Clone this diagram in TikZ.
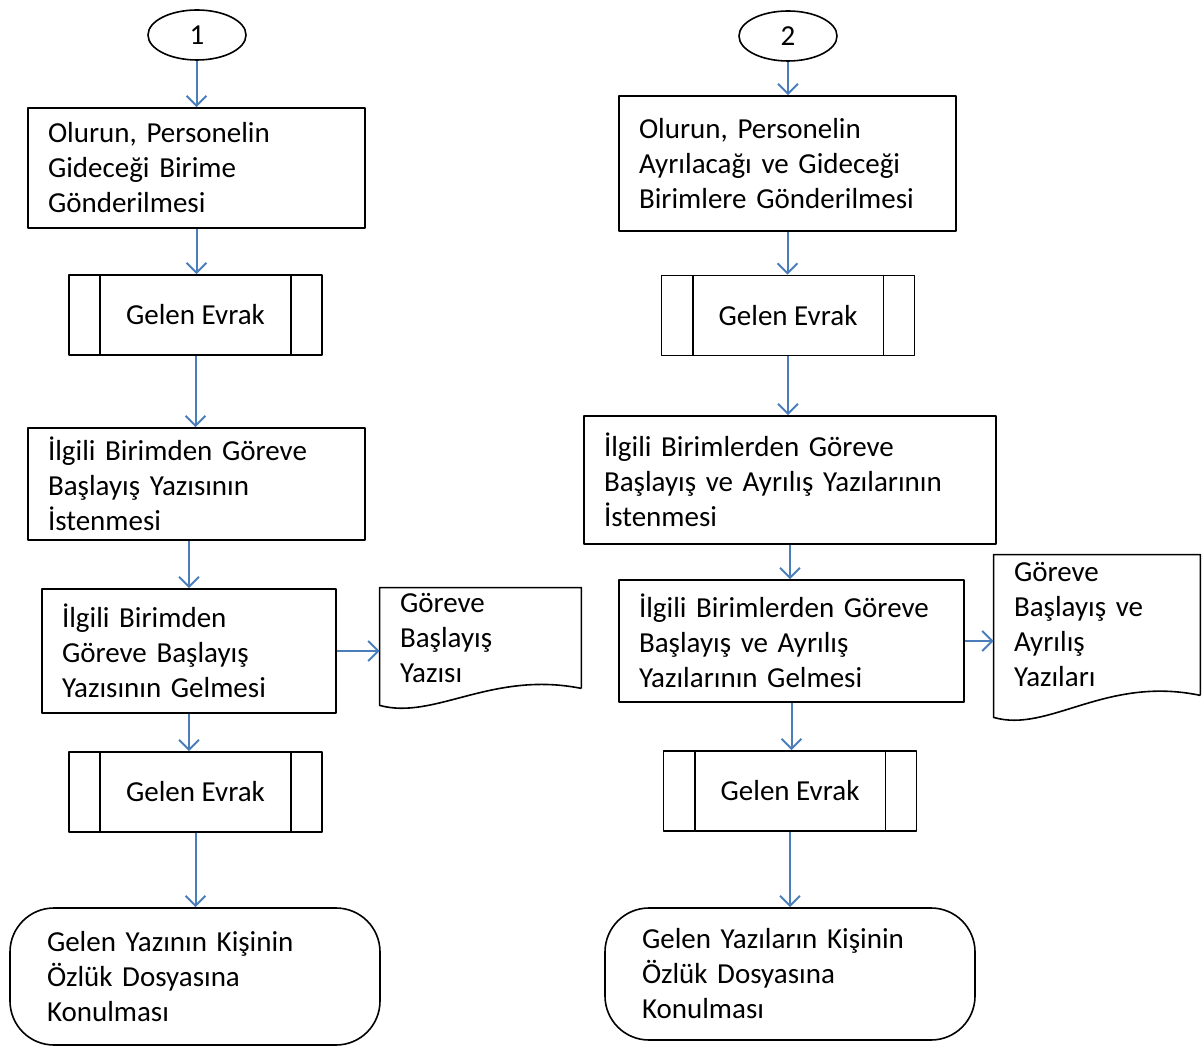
\documentclass[tikz,border=0pt]{standalone}
\usepackage{fontspec}
\setmainfont{Carlito}
\usetikzlibrary{shapes.geometric,arrows.meta,calc}
\definecolor{okmavi}{RGB}{74,126,187}
\begin{document}
\begin{tikzpicture}[x=0.5pt,y=-0.5pt,line join=round,
  font=\fontsize{14.5}{17.5}\selectfont,
  kutu/.style={draw,line width=0.8pt,rectangle,align=left,inner xsep=10pt,inner ysep=0pt},
  hazir/.style={draw,line width=0.8pt,rectangle,minimum width=126.5pt,minimum height=40pt},
  belge/.style={rectangle,align=left,inner xsep=10pt,inner ysep=0pt},
  bitis/.style={draw,line width=0.8pt,rectangle,rounded corners=22pt,align=left,inner xsep=18.5pt,inner ysep=0pt},
  basla/.style={draw,line width=0.8pt,ellipse,minimum width=49pt,minimum height=25pt,inner sep=0pt},
  ok/.style={draw=okmavi,line width=1pt,-{Straight Barb[length=5pt,width=10pt]}}]
\useasboundingbox (0,0) rectangle (1203,1047);
%% Sol sütun
\node[basla] (s1) at (197,35) {1};
\node[kutu,text width=148.5pt,minimum height=60pt] (b1) at (196.5,168) {Olurun, Personelin\\Gideceği Birime\\Gönderilmesi};
\node[hazir] (g1) at (195.5,315) {Gelen Evrak};
\node[kutu,text width=148.5pt,minimum height=56pt] (b2) at (196.5,484) {İlgili Birimden Göreve\\Başlayış Yazısının\\İstenmesi};
\node[kutu,text width=127pt,minimum height=62pt] (b3) at (189,651) {İlgili Birimden\\Göreve Başlayış\\Yazısının Gelmesi};
\node[belge,text width=80.5pt,minimum height=50pt] (d1) at (480.5,638) {Göreve\\Başlayış\\Yazısı};
\node[hazir] (g2) at (195.5,792) {Gelen Evrak};
\node[bitis,text width=148pt,minimum height=68.5pt] (t1) at (195,976.5) {Gelen Yazının Kişinin\\Özlük Dosyasına\\Konulması};
%% Sağ sütun
\node[basla] (s2) at (788,36) {2};
\node[kutu,text width=148.5pt,minimum height=67.5pt] (r1) at (787.5,163.5) {Olurun, Personelin\\Ayrılacağı ve Gideceği\\Birimlere Gönderilmesi};
\node[hazir] (h1) at (788,315.5) {Gelen Evrak};
\node[kutu,text width=186pt,minimum height=64pt] (r2) at (790,480) {İlgili Birimlerden Göreve\\Başlayış ve Ayrılış Yazılarının\\İstenmesi};
\node[kutu,text width=152.5pt,minimum height=61pt] (r3) at (791.5,641) {İlgili Birimlerden Göreve\\Başlayış ve Ayrılış\\Yazılarının Gelmesi};
\node[belge,text width=83pt,minimum height=70pt] (d2) at (1097,625) {Göreve\\Başlayış ve\\Ayrılış\\Yazıları};
\node[hazir] (h2) at (790,791) {Gelen Evrak};
\node[bitis,text width=148pt,minimum height=66pt] (t2) at (790,974) {Gelen Yazıların Kişinin\\Özlük Dosyasına\\Konulması};
%% hazır işlem çizgileri
\foreach \g in {g1,g2,h1,h2}{
  \draw[line width=0.8pt] ([xshift=16pt]\g.north west) -- ([xshift=16pt]\g.south west);
  \draw[line width=0.8pt] ([xshift=-16pt]\g.north east) -- ([xshift=-16pt]\g.south east);
}
%% belge şekilleri
\draw[line width=0.8pt] (d1.south east) -- (d1.north east) -- (d1.north west) -- ($(d1.south west)+(0,17)$)
  .. controls ($(d1.south west)+(55,32)$) and ($(d1.south east)+(-90,-18)$) .. (d1.south east);
\draw[line width=0.8pt] (d2.south east) -- (d2.north east) -- (d2.north west) -- ($(d2.south west)+(0,22)$)
  .. controls ($(d2.south west)+(55,38)$) and ($(d2.south east)+(-95,-20)$) .. (d2.south east);
%% oklar
\draw[ok] (s1.south -| b1.south) -- (b1.north);
\draw[ok] (b1.south) -- (g1.north -| b1.south);
\draw[ok] (g1.south) -- (b2.north -| g1.south);
\draw[ok] (b3.north |- b2.south) -- (b3.north);
\draw[ok] (b3.east) -- (b3.east -| d1.west);
\draw[ok] (b3.south) -- (g2.north -| b3.south);
\draw[ok] (g2.south) -- (t1.north -| g2.south);
\draw[ok] (s2.south) -- (r1.north -| s2.south);
\draw[ok] (r1.south) -- (h1.north -| r1.south);
\draw[ok] (h1.south) -- (r2.north -| h1.south);
\draw[ok] (r2.south) -- (r3.north -| r2.south);
\draw[ok] (r3.east) -- (r3.east -| d2.west);
\draw[ok] (r3.south) -- (h2.north -| r3.south);
\draw[ok] (h2.south) -- (t2.north -| h2.south);
\end{tikzpicture}
\end{document}
